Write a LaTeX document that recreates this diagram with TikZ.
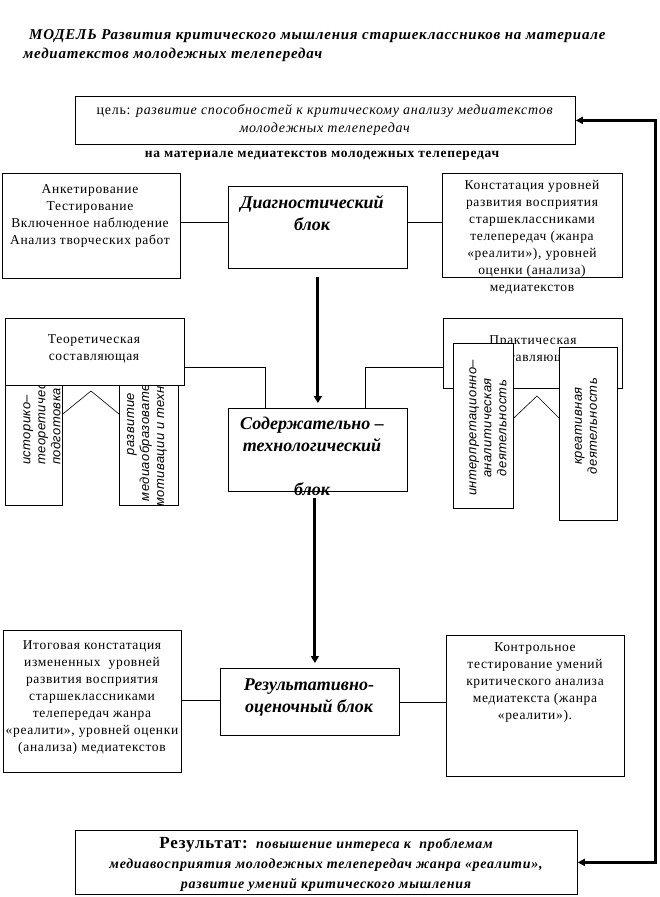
\documentclass[tikz,border=0pt]{standalone}
\usepackage{fontspec}
\setmainfont{Liberation Serif}
\newfontfamily\spacedserif{Liberation Serif}[LetterSpace=5]
\newfontfamily\sansit{Liberation Sans}[LetterSpace=3]
\usetikzlibrary{arrows.meta}

\begin{document}
\begin{tikzpicture}[x=1pt, y=-1pt,
	frame/.style={draw, line width=0.8pt, fill=white, inner sep=0pt, anchor=north west},
	plain/.style={font=\spacedserif\fontsize{13.5}{17}\selectfont, align=center, inner sep=0pt},
	blocktext/.style={font=\fontsize{18}{22}\selectfont\bfseries\itshape, align=center, inner sep=0pt},
	vertical/.style={font=\sansit\itshape\fontsize{13}{15}\selectfont, rotate=90, inner sep=0pt},
	link/.style={line width=0.8pt},
	flow/.style={line width=3pt, -{Triangle[length=7pt, width=8pt]}},
	backline/.style={line width=3pt, {Triangle[length=7pt, width=7pt]}-{Triangle[length=7pt, width=7pt]}}]
	\useasboundingbox (0,0) rectangle (659,897);
	
	% heading and goal
	\node[anchor=west, align=left, inner sep=0pt, font=\spacedserif\fontsize{15}{19}\selectfont\bfseries\itshape] (title) at (23,46)
	{\hspace{6pt}МОДЕЛЬ Развития критического мышления старшеклассников на материале\\медиатекстов молодежных телепередач};
	\node[frame, minimum width=500pt, minimum height=48pt] (goal) at (75,96) {};
	\node[plain, font=\spacedserif\fontsize{14}{18}\selectfont] (goaltext) at (325,120)
	{цель: \textit{развитие способностей к критическому анализу медиатекстов}\\\textit{молодежных телепередач}};
	\node[plain, font=\spacedserif\fontsize{13.5}{17}\selectfont\bfseries] (subhead) at (322,156) {на материале медиатекстов молодежных телепередач};
	
	% diagnostic row
	\node[frame, minimum width=178pt, minimum height=105pt] (diagL) at (2,173) {};
	\node[plain] (diagLtext) at (90,216) {Анкетирование\\Тестирование\\Включенное наблюдение\\Анализ творческих работ};
	\node[frame, minimum width=179pt, minimum height=82pt] (diag) at (228,186) {};
	\node[blocktext] (diagtext) at (312,213) {Диагностический\\блок};
	\node[frame, minimum width=180pt, minimum height=104pt] (diagR) at (442,173) {};
	\node[plain] (diagRtext) at (532,237) {Констатация уровней\\развития восприятия\\старшеклассниками\\телепередач (жанра\\«реалити»), уровней\\оценки (анализа)\\медиатекстов};
	
	% theoretical part
	\node[frame, minimum width=57pt, minimum height=162pt] (histbox) at (5,343) {};
	\node[vertical, anchor=west, align=left] (histtext) at (42,465) {историко–\\теоретическая\\подготовка};
	\node[frame, minimum width=59pt, minimum height=162pt] (motivbox) at (119,343) {};
	\node[vertical, align=center] (motivtext) at (147,424) {развитие\\медиаобразовательной\\мотивации и технологий};
	\node[frame, minimum width=179pt, minimum height=67pt] (theory) at (5,318) {};
	\node[plain] (theorytext) at (94,349) {Теоретическая\\составляющая};
	\coordinate (roofL) at (91,391);
	\draw[line width=0.6pt] (histbox.east |- 0,414) -- (roofL) -- (motivbox.west |- 0,414);
	
	% practical part
	\node[frame, minimum width=179pt, minimum height=70pt] (practice) at (443,318) {};
	\node[plain] (practicetext) at (533,350) {Практическая\\составляющая};
	\node[frame, minimum width=60pt, minimum height=165pt] (interp) at (453,343) {};
	\node[vertical, align=center] (interptext) at (488,428) {интерпретационно–\\аналитическая\\деятельность};
	\node[frame, minimum width=58pt, minimum height=173pt] (creat) at (559,347) {};
	\node[vertical, align=center] (creattext) at (586,426) {креативная\\деятельность};
	\coordinate (roofR) at (537,396);
	\draw[line width=0.6pt] (interp.east |- 0,418) -- (roofR) -- (creat.west |- 0,418);
	
	% content block
	\node[frame, minimum width=179pt, minimum height=83pt] (content) at (228,408) {};
	\node[blocktext] (contenttext) at (312,456) {Содержательно –\\технологический\\[22pt]блок};
	
	% result row
	\node[frame, minimum width=178pt, minimum height=142pt] (resL) at (3,630) {};
	\node[plain] (resLtext) at (92,698) {Итоговая констатация\\измененных\ \ уровней\\развития восприятия\\старшеклассниками\\телепередач жанра\\«реалити», уровней оценки\\(анализа) медиатекстов};
	\node[frame, minimum width=179pt, minimum height=67pt] (result) at (220,668) {};
	\node[blocktext] (resulttext) at (309,697) {Результативно-\\оценочный блок};
	\node[frame, minimum width=178pt, minimum height=141pt] (resR) at (446,635) {};
	\node[plain] (resRtext) at (535,683) {Контрольное\\тестирование умений\\критического анализа\\медиатекста (жанра\\«реалити»).};
	
	% final result
	\node[frame, minimum width=502pt, minimum height=64pt] (final) at (75,830) {};
	\node[align=center, inner sep=0pt, font=\spacedserif\fontsize{14}{20}\selectfont\bfseries\itshape] (finaltext) at (326,864)
	{{\upshape\fontsize{17}{20}\selectfont Результат:}\ \ повышение интереса к\ \ проблемам\\медиавосприятия молодежных телепередач жанра «реалити»,\\развитие умений критического мышления};
	
	% connectors
	\draw[link] ([yshift=5pt]diag.west) -- ([yshift=5pt]diag.west -| diagL.east);
	\draw[link] ([yshift=5pt]diag.east) -- ([yshift=5pt]diag.east -| diagR.west);
	\draw[link] ([yshift=-15pt]theory.east) -| ([xshift=-53pt]content.north);
	\draw[link] ([xshift=47pt]content.north) |- ([yshift=-14pt]practice.west);
	\draw[link] (resL.east |- 0,700) -- (result.west |- 0,700);
	\draw[link] (result.east |- 0,702) -- (resR.west |- 0,702);
	\draw[flow] ([yshift=-8pt]diag.south) -- ([yshift=5pt]content.north);
	\draw[flow] ([xshift=-3pt, yshift=-6pt]content.south) -- ([xshift=-3pt, yshift=5pt]content.south |- result.north);
	\draw[backline] (goal.east) -- ++(80,0) |- (final.east);
	
\end{tikzpicture}
\end{document}
